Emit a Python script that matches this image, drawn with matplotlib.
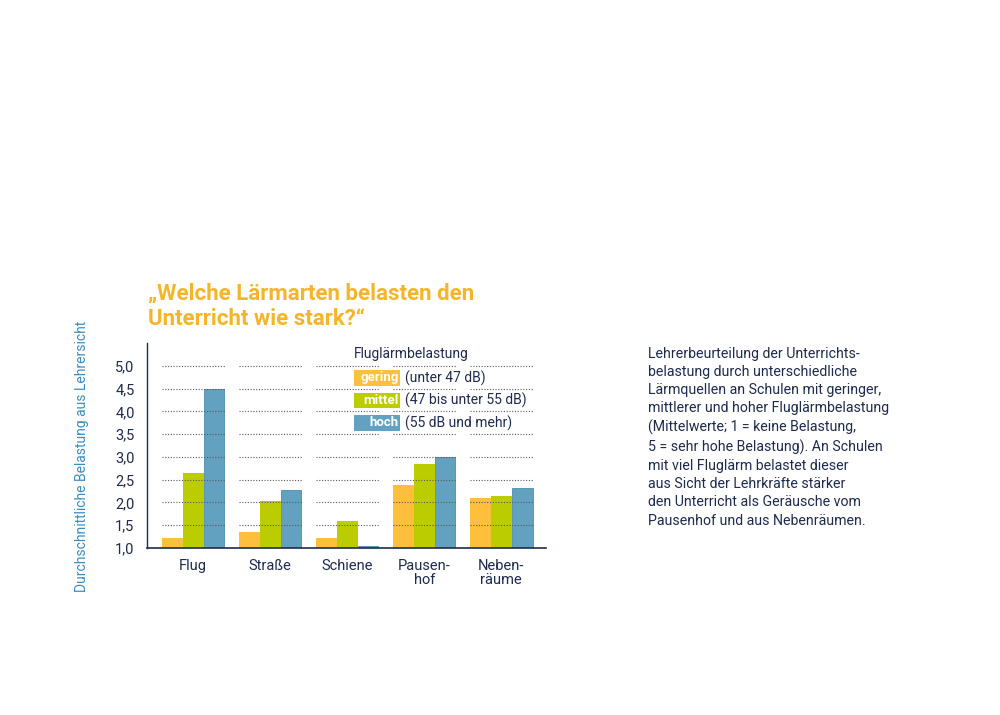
import matplotlib.pyplot as plt
from matplotlib.patches import Rectangle

plt.rcParams['font.family'] = ['Roboto', 'DejaVu Sans']

# Lärmquellen und Mittelwerte je Fluglärmbelastung
categories = ['Flug', 'Straße', 'Schiene', 'Pausen-\nhof', 'Neben-\nräume']
gering = [1.22, 1.35, 1.22, 2.38, 2.10]
mittel = [2.65, 2.03, 1.59, 2.85, 2.15]
hoch = [4.50, 2.27, 1.04, 3.00, 2.32]
yticks = [1.0, 1.5, 2.0, 2.5, 3.0, 3.5, 4.0, 4.5, 5.0]
yticklabels = ['1,0', '1,5', '2,0', '2,5', '3,0', '3,5', '4,0', '4,5', '5,0']

c_gering = '#FDBF3C'
c_mittel = '#BBCD00'
c_hoch = '#63A1C0'
navy = '#1F2B4D'

fig = plt.figure(figsize=(10, 7.15), dpi=100)
ax = fig.add_axes([0.147, 0.2336, 0.399, 0.2867])

w = 0.27
x = list(range(len(categories)))
ax.bar([i - w for i in x], [v - 1 for v in gering], w, bottom=1, color=c_gering, zorder=2)
ax.bar(x, [v - 1 for v in mittel], w, bottom=1, color=c_mittel, zorder=2)
ax.bar([i + w for i in x], [v - 1 for v in hoch], w, bottom=1, color=c_hoch,
       edgecolor='#4E8DAE', linewidth=0.6, zorder=2)

# gepunktete Hilfslinien je Gruppe
for i in x:
    ax.hlines(yticks[1:], i - 0.41, i + 0.41, colors='#555a66', linestyles=(0, (1, 1.5)),
              linewidth=0.8, zorder=3)

ax.set_xlim(-0.6, 4.58)
ax.set_ylim(1.0, 5.5)
ax.set_yticks(yticks)
ax.set_yticklabels(yticklabels, fontsize=10.5, color=navy)
ax.set_xticks(x)
ax.set_xticklabels(categories, fontsize=10.5, color=navy, linespacing=0.95)
ax.tick_params(length=0, pad=8)
ax.tick_params(axis='y', pad=9)
for s in ['top', 'right']:
    ax.spines[s].set_visible(False)
ax.spines['left'].set_color(navy)
ax.spines['bottom'].set_color(navy)
ax.spines['left'].set_linewidth(1.0)
ax.spines['bottom'].set_linewidth(1.2)

fig.text(0.082, 1 - 456 / 715, 'Durchschnittliche Belastung aus Lehrersicht', rotation=90,
         ha='center', va='center', fontsize=10, color='#3A8DBB')

title_color = '#F5B52A'
fig.text(0.148, 1 - 300 / 715, '„Welche Lärmarten belasten den', ha='left', va='baseline',
         fontsize=16, fontweight='bold', color=title_color)
fig.text(0.148, 1 - 325 / 715, 'Unterricht wie stark?“', ha='left', va='baseline',
         fontsize=16, fontweight='bold', color=title_color)

# Legende
fig.text(0.354, 0.505, 'Fluglärmbelastung', ha='left', va='center', fontsize=10, color=navy)
legend_items = [('gering', '(unter 47 dB)', c_gering),
                ('mittel', '(47 bis unter 55 dB)', c_mittel),
                ('hoch', '(55 dB und mehr)', c_hoch)]
for k, (name, desc, col) in enumerate(legend_items):
    yc = 1 - (378 + k * 22.5) / 715
    fig.add_artist(Rectangle((0.354, yc - 0.0105), 0.046, 0.021, transform=fig.transFigure,
                             facecolor=col, edgecolor='none', zorder=5))
    fig.text(0.3985, yc, name, ha='right', va='center', fontsize=9.5, fontweight='bold',
             color='white', zorder=6)
    fig.text(0.405, yc, desc, ha='left', va='center', fontsize=10, color=navy, zorder=6)

note = ('Lehrerbeurteilung der Unterrichts-\n'
        'belastung durch unterschiedliche\n'
        'Lärmquellen an Schulen mit geringer,\n'
        'mittlerer und hoher Fluglärmbelastung\n'
        '(Mittelwerte; 1 = keine Belastung,\n'
        '5 = sehr hohe Belastung). An Schulen\n'
        'mit viel Fluglärm belastet dieser\n'
        'aus Sicht der Lehrkräfte stärker\n'
        'den Unterricht als Geräusche vom\n'
        'Pausenhof und aus Nebenräumen.')
fig.text(0.648, 1 - 347 / 715, note, ha='left', va='top', fontsize=10.2, color=navy,
         linespacing=1.375)

fig.savefig('out.png', dpi=100)
